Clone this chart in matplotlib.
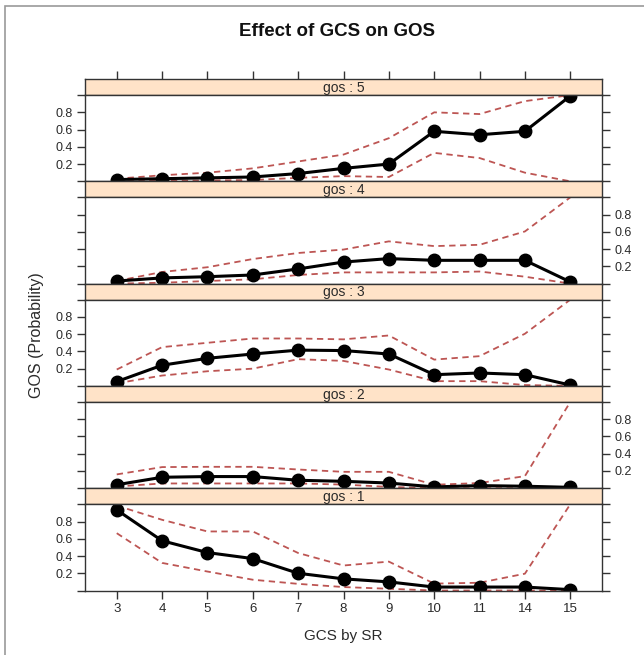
import numpy as np
import matplotlib.pyplot as plt
from matplotlib.patches import Rectangle

plt.rcParams['font.family'] = ['Liberation Sans', 'DejaVu Sans']

# GCS by SR categories (equally spaced factor levels)
gcs_levels = ['3', '4', '5', '6', '7', '8', '9', '10', '11', '14', '15']

# probability of each GOS level, with lower / upper bands
gos5_fit = [0.02, 0.03, 0.04, 0.05, 0.09, 0.15, 0.20, 0.58, 0.54, 0.58, 0.99]
gos5_hi = [0.03, 0.07, 0.10, 0.15, 0.23, 0.31, 0.50, 0.80, 0.78, 0.93, 1.00]
gos5_lo = [0.00, 0.005, 0.01, 0.015, 0.04, 0.06, 0.05, 0.33, 0.27, 0.10, 0.00]

gos4_fit = [0.03, 0.066, 0.08, 0.10, 0.17, 0.25, 0.29, 0.27, 0.27, 0.27, 0.02]
gos4_hi = [0.03, 0.135, 0.19, 0.285, 0.355, 0.395, 0.49, 0.435, 0.45, 0.605, 1.00]
gos4_lo = [0.00, 0.01, 0.03, 0.05, 0.10, 0.13, 0.13, 0.13, 0.14, 0.08, 0.00]

gos3_fit = [0.05, 0.24, 0.32, 0.37, 0.415, 0.41, 0.37, 0.13, 0.15, 0.13, 0.01]
gos3_hi = [0.19, 0.45, 0.50, 0.55, 0.55, 0.54, 0.585, 0.305, 0.345, 0.605, 1.00]
gos3_lo = [0.03, 0.12, 0.17, 0.20, 0.31, 0.29, 0.19, 0.055, 0.055, 0.01, 0.00]

gos2_fit = [0.04, 0.127, 0.135, 0.135, 0.092, 0.08, 0.06, 0.015, 0.03, 0.023, 0.01]
gos2_hi = [0.16, 0.245, 0.248, 0.248, 0.217, 0.19, 0.19, 0.04, 0.06, 0.14, 1.00]
gos2_lo = [0.02, 0.055, 0.055, 0.055, 0.055, 0.042, 0.015, 0.0, 0.0, 0.0, 0.0]

gos1_fit = [0.935, 0.577, 0.44, 0.37, 0.20, 0.135, 0.10, 0.04, 0.04, 0.04, 0.01]
gos1_hi = [0.985, 0.82, 0.685, 0.685, 0.435, 0.29, 0.335, 0.08, 0.09, 0.195, 1.00]
gos1_lo = [0.665, 0.32, 0.22, 0.125, 0.077, 0.04, 0.02, 0.0, 0.0, 0.0, 0.0]

panels = [
    ('gos : 5', gos5_fit, gos5_lo, gos5_hi),
    ('gos : 4', gos4_fit, gos4_lo, gos4_hi),
    ('gos : 3', gos3_fit, gos3_lo, gos3_hi),
    ('gos : 2', gos2_fit, gos2_lo, gos2_hi),
    ('gos : 1', gos1_fit, gos1_lo, gos1_hi),
]

W, H = 644, 655
fig = plt.figure(figsize=(W / 100, H / 100), dpi=100)

# outer light frame of the figure
fig.patches.append(Rectangle((5 / W, -0.1), 1.2, 1.1 - 6 / H, transform=fig.transFigure,
                             fill=False, edgecolor='#9a9a9a', lw=1.2))

left, right = 85, 602
top0 = 79
strip_h = 16.1
panel_h = 86.2
step = strip_h + panel_h
x = np.arange(len(gcs_levels))
xlim = (-0.7, 10.7)
frame_col = '#333333'
dash_col = '#bd5553'
txt_col = '#2a2a2a'

for i, (name, fit, lo, hi) in enumerate(panels):
    s_top = top0 + i * step
    # strip
    sax = fig.add_axes([left / W, 1 - (s_top + strip_h) / H, (right - left) / W, strip_h / H])
    sax.set_facecolor('#ffe3c8')
    sax.set_xlim(xlim)
    sax.set_ylim(0, 1)
    sax.set_yticks([])
    for sp in sax.spines.values():
        sp.set_color(frame_col)
        sp.set_linewidth(1.0)
    sax.text(0.5, 0.45, name, transform=sax.transAxes, ha='center', va='center',
             fontsize=10, color=txt_col)
    if i == 0:
        sax.set_xticks(x)
        sax.tick_params(axis='x', top=True, bottom=False, labeltop=False, labelbottom=False,
                        direction='out', length=6, width=1, color=frame_col)
    else:
        sax.set_xticks([])

    # panel
    ax = fig.add_axes([left / W, 1 - (s_top + step) / H, (right - left) / W, panel_h / H])
    ax.plot(x, hi, ls=(0, (3.5, 2.5)), color=dash_col, lw=1.3)
    ax.plot(x, lo, ls=(0, (3.5, 2.5)), color=dash_col, lw=1.3)
    ax.plot(x, fit, color='black', lw=2.2, marker='o', markersize=9)
    ax.set_xlim(xlim)
    ax.set_ylim(0, 1)
    ax.set_yticks([0, 0.2, 0.4, 0.6, 0.8, 1.0])
    ax.set_yticklabels(['', '0.2', '0.4', '0.6', '0.8', ''])
    label_left = (i % 2 == 0)
    ax.tick_params(axis='y', left=True, right=True, labelleft=label_left,
                   labelright=not label_left, direction='out', length=6, width=1,
                   color=frame_col, labelsize=9, labelcolor=txt_col, pad=3)
    for sp in ax.spines.values():
        sp.set_color(frame_col)
        sp.set_linewidth(1.0)
    if i == len(panels) - 1:
        ax.set_xticks(x)
        ax.set_xticklabels(gcs_levels)
        ax.tick_params(axis='x', bottom=True, top=False, direction='out', length=6, width=1,
                       color=frame_col, labelsize=9.5, labelcolor=txt_col, pad=3)
        ax.set_xlabel('GCS by SR', fontsize=11, color=txt_col, labelpad=10)
    else:
        ax.set_xticks([])

fig.text(337 / W, 1 - 32 / H, 'Effect of GCS on GOS', ha='center', va='center',
         fontsize=13.5, fontweight='bold', color='#111111')
fig.text(36 / W, 1 - 335 / H, 'GOS (Probability)', ha='center', va='center',
         rotation=90, fontsize=11.5, color=txt_col)

fig.savefig('out.png', dpi=100)
